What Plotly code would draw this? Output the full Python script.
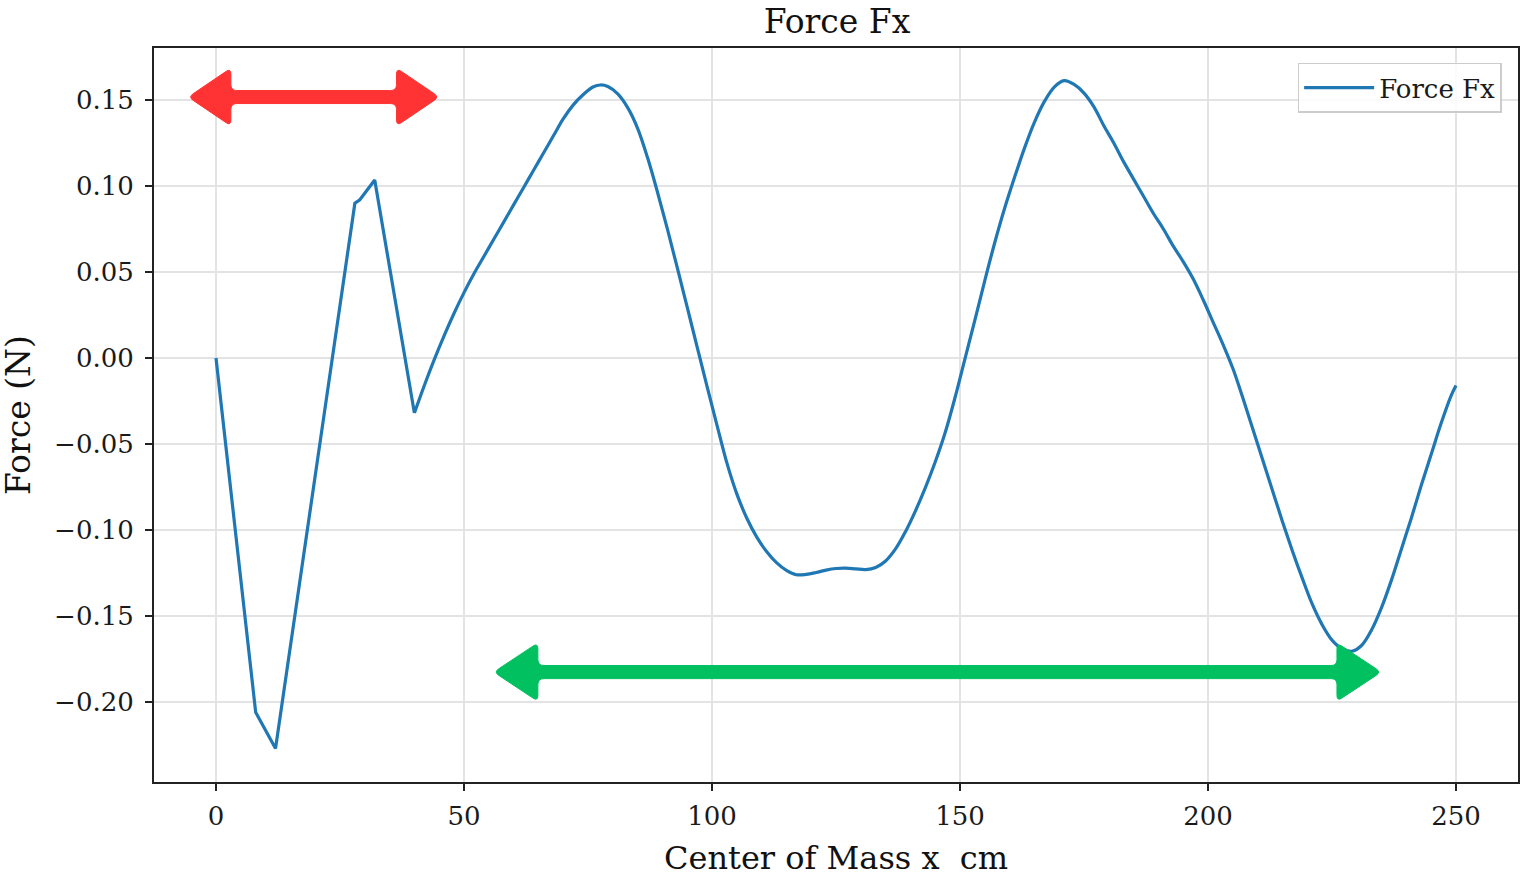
import math
import plotly.graph_objects as go

# Centre-of-mass position (cm) and horizontal force (N)
x_cm = [0, 8, 12, 28, 29, 32, 40, 42, 44, 46, 48, 50, 52, 54, 56, 58, 60, 62, 64, 66, 68,
        70, 72, 74, 76, 77.5, 79, 81, 83, 85, 87, 89, 91, 93, 95, 97, 99, 101, 103, 105,
        107, 109, 111, 113, 115, 117, 119, 121, 123, 125, 127, 129, 131, 133, 135, 137,
        139, 141, 143, 145, 147, 149, 151, 153, 155, 157, 159, 161, 163, 165, 167, 169,
        171, 173, 175, 177, 179, 181, 183, 185, 187, 189, 191, 193, 195, 197, 199, 201,
        203, 205, 207, 209, 211, 213, 215, 217, 219, 221, 223, 225, 227, 229, 231, 233,
        235, 237, 239, 241, 243, 245, 247, 249, 250]
force_fx = [0.000, -0.206, -0.227, 0.090, 0.092, 0.1035, -0.032, -0.016, -0.001, 0.013,
            0.026, 0.038, 0.049, 0.059, 0.069, 0.079, 0.089, 0.099, 0.109, 0.119, 0.129,
            0.139, 0.147, 0.153, 0.1575, 0.1587, 0.1578, 0.1535, 0.1455, 0.1335, 0.1165,
            0.0965, 0.075, 0.0525, 0.0295, 0.0065, -0.0165, -0.039, -0.061, -0.079, -0.093,
            -0.104, -0.1125, -0.119, -0.1235, -0.1260, -0.1258, -0.1247, -0.1233, -0.1224,
            -0.1222, -0.1226, -0.1230, -0.1218, -0.118, -0.111, -0.101, -0.089, -0.0755,
            -0.0605, -0.0435, -0.023, -0.0005, 0.022, 0.045, 0.067, 0.087, 0.105, 0.122,
            0.137, 0.149, 0.1575, 0.1612, 0.159, 0.154, 0.146, 0.135, 0.125, 0.114, 0.104,
            0.094, 0.084, 0.075, 0.065, 0.056, 0.046, 0.034, 0.021, 0.008, -0.006, -0.023,
            -0.041, -0.059, -0.077, -0.095, -0.112, -0.128, -0.143, -0.155, -0.164, -0.169,
            -0.1705, -0.167, -0.158, -0.145, -0.129, -0.111, -0.093, -0.074, -0.056, -0.038,
            -0.022, -0.016]

x_ticks = [0, 50, 100, 150, 200, 250]
y_ticks = [-0.20, -0.15, -0.10, -0.05, 0.00, 0.05, 0.10, 0.15]
y_tick_text = ["\u22120.20", "\u22120.15", "\u22120.10", "\u22120.05", "0.00", "0.05", "0.10", "0.15"]

FONT = "DejaVu Serif"
LINE_COLOR = "#1f77b4"

X_RANGE = [-12.5, 262.5]
Y_RANGE = [-0.2465, 0.1802]
MARGIN = dict(l=154, r=6, t=48, b=94)
WIDTH, HEIGHT = 1526, 876

# pixels per data unit, used to round arrow corners evenly on screen
SX = (WIDTH - MARGIN["l"] - MARGIN["r"]) / (X_RANGE[1] - X_RANGE[0])
SY = (HEIGHT - MARGIN["t"] - MARGIN["b"]) / (Y_RANGE[1] - Y_RANGE[0])

# The first stretch (up to x = 40) is a polyline with sharp corners;
# the remainder is a smooth curve.
split = x_cm.index(40)


def rounded_polygon(pts, radius_px):
    """Closed SVG path through pts (data units) with rounded corners."""
    pix = [(x * SX, y * SY) for x, y in pts]
    n = len(pix)
    segs = []
    for i in range(n):
        vx, vy = pix[i]
        px, py = pix[i - 1]
        nx, ny = pix[(i + 1) % n]
        dp = math.hypot(px - vx, py - vy)
        dn = math.hypot(nx - vx, ny - vy)
        r = min(radius_px, dp / 2, dn / 2)
        ax, ay = vx + r * (px - vx) / dp, vy + r * (py - vy) / dp
        bx, by = vx + r * (nx - vx) / dn, vy + r * (ny - vy) / dn
        segs.append(((ax / SX, ay / SY), (vx / SX, vy / SY), (bx / SX, by / SY)))
    path = f"M {segs[0][0][0]},{segs[0][0][1]}"
    for a, v, b in segs:
        path += f" L {a[0]},{a[1]} Q {v[0]},{v[1]} {b[0]},{b[1]}"
    return path + " Z"


def double_arrow(x0, x1, y, head_len, head_half, shaft_half, radius_px=5):
    """Filled double-headed horizontal arrow in data units."""
    pts = [
        (x0, y),
        (x0 + head_len, y + head_half),
        (x0 + head_len, y + shaft_half),
        (x1 - head_len, y + shaft_half),
        (x1 - head_len, y + head_half),
        (x1, y),
        (x1 - head_len, y - head_half),
        (x1 - head_len, y - shaft_half),
        (x0 + head_len, y - shaft_half),
        (x0 + head_len, y - head_half),
    ]
    return rounded_polygon(pts, radius_px)


fig = go.Figure()
fig.add_trace(go.Scatter(
    x=x_cm[:split + 1], y=force_fx[:split + 1], mode="lines", name="Force Fx",
    legendgroup="fx", line=dict(color=LINE_COLOR, width=3.2),
))
fig.add_trace(go.Scatter(
    x=x_cm[split:], y=force_fx[split:], mode="lines", name="Force Fx",
    legendgroup="fx", showlegend=False,
    line=dict(color=LINE_COLOR, width=3.2, shape="spline", smoothing=1.0),
))

shapes = [
    dict(type="path", xref="x", yref="y",
         path=double_arrow(-5.6, 45.0, 0.1517, 8.6, 0.0168, 0.0038, radius_px=6),
         fillcolor="#ff3333", line=dict(color="#ff3333", width=1), layer="above"),
    dict(type="path", xref="x", yref="y",
         path=double_arrow(56.0, 234.9, -0.1826, 8.9, 0.0170, 0.0038, radius_px=6),
         fillcolor="#00c060", line=dict(color="#00c060", width=1), layer="above"),
]

fig.update_layout(
    width=WIDTH, height=HEIGHT,
    margin=MARGIN,
    paper_bgcolor="white", plot_bgcolor="white",
    font=dict(family=FONT, color="#1a1a1a", size=26),
    title=dict(text="Force Fx", x=(154 + 1520) / 2 / 1526, xanchor="center",
               y=1 - 21 / 876, yanchor="middle", yref="container",
               font=dict(family=FONT, size=33, color="#111111")),
    showlegend=True,
    legend=dict(x=0.988, xanchor="right", y=0.98, yanchor="top",
                bgcolor="rgba(255,255,255,0.85)", bordercolor="#cccccc", borderwidth=1.5,
                itemwidth=70,
                font=dict(family=FONT, size=26, color="#1a1a1a")),
    shapes=shapes,
    annotations=[
        dict(text="Center of Mass x  cm", xref="paper", yref="paper", x=0.5, y=0,
             yshift=-76, xanchor="center", yanchor="middle", showarrow=False,
             font=dict(family=FONT, size=32, color="#111111")),
        dict(text="Force (N)", xref="paper", yref="paper", x=0, y=0.5, xshift=-136,
             xanchor="center", yanchor="middle", textangle=-90, showarrow=False,
             font=dict(family=FONT, size=33, color="#111111")),
    ],
)

fig.update_xaxes(
    range=X_RANGE, tickvals=x_ticks, ticktext=[str(v) for v in x_ticks],
    showgrid=True, gridcolor="#e3e3e3", gridwidth=1.5, zeroline=False,
    showline=True, linecolor="#222222", linewidth=2, mirror=True,
    ticks="outside", ticklen=7, tickwidth=1.5, tickcolor="#222222",
    ticklabelstandoff=3,
    tickfont=dict(family=FONT, size=26, color="#1a1a1a"),
)
fig.update_yaxes(
    range=Y_RANGE, tickvals=y_ticks, ticktext=y_tick_text,
    showgrid=True, gridcolor="#e3e3e3", gridwidth=1.5, zeroline=False,
    showline=True, linecolor="#222222", linewidth=2, mirror=True,
    ticks="outside", ticklen=7, tickwidth=1.5, tickcolor="#222222",
    ticklabelstandoff=6,
    tickfont=dict(family=FONT, size=26, color="#1a1a1a"),
)

fig.write_html("out.html")
